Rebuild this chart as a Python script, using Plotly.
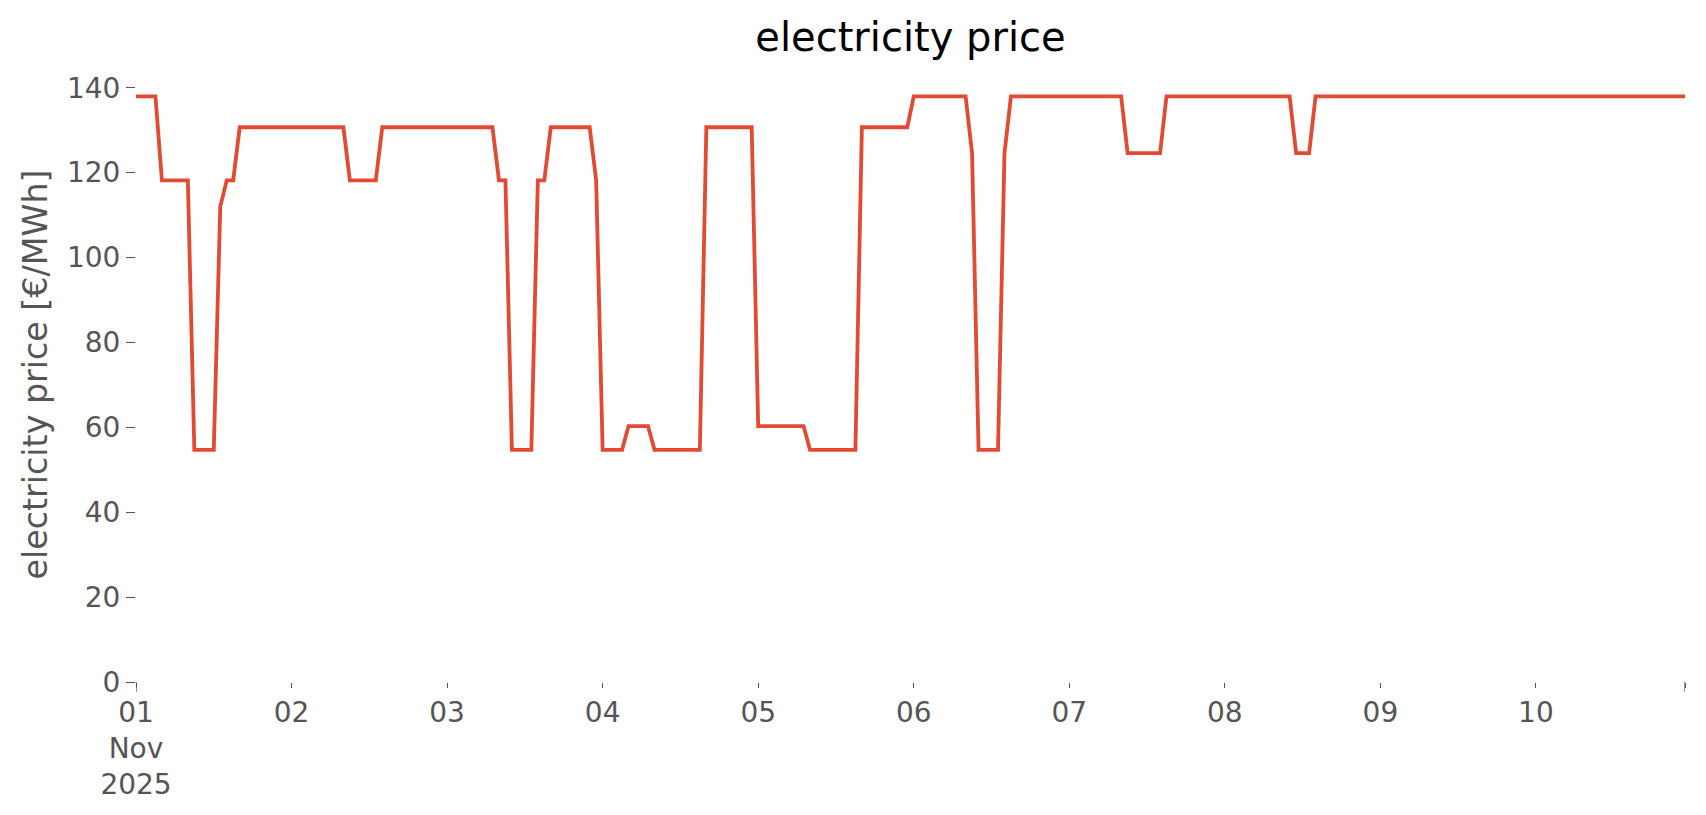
import pandas as pd
import plotly.graph_objects as go

# hourly electricity price [EUR/MWh], 01 Nov 2025 00:00 .. 10 Nov 2025 23:00
day01 = [138.0, 138.0, 138.0, 138.0, 118.2, 118.2, 118.2, 118.2, 118.2, 54.7, 54.7, 54.7,
         54.7, 112.0, 118.2, 118.2, 130.7, 130.7, 130.7, 130.7, 130.7, 130.7, 130.7, 130.7]
day02 = [130.7, 130.7, 130.7, 130.7, 130.7, 130.7, 130.7, 130.7, 130.7, 118.2, 118.2, 118.2,
         118.2, 118.2, 130.7, 130.7, 130.7, 130.7, 130.7, 130.7, 130.7, 130.7, 130.7, 130.7]
day03 = [130.7, 130.7, 130.7, 130.7, 130.7, 130.7, 130.7, 130.7, 118.2, 118.2, 54.7, 54.7,
         54.7, 54.7, 118.2, 118.2, 130.7, 130.7, 130.7, 130.7, 130.7, 130.7, 130.7, 118.2]
day04 = [54.7, 54.7, 54.7, 54.7, 60.3, 60.3, 60.3, 60.3, 54.7, 54.7, 54.7, 54.7,
         54.7, 54.7, 54.7, 54.7, 130.7, 130.7, 130.7, 130.7, 130.7, 130.7, 130.7, 130.7]
day05 = [60.3, 60.3, 60.3, 60.3, 60.3, 60.3, 60.3, 60.3, 54.7, 54.7, 54.7, 54.7,
         54.7, 54.7, 54.7, 54.7, 130.7, 130.7, 130.7, 130.7, 130.7, 130.7, 130.7, 130.7]
day06 = [138.0, 138.0, 138.0, 138.0, 138.0, 138.0, 138.0, 138.0, 138.0, 124.6, 54.7, 54.7,
         54.7, 54.7, 124.6, 138.0, 138.0, 138.0, 138.0, 138.0, 138.0, 138.0, 138.0, 138.0]
day07 = [138.0, 138.0, 138.0, 138.0, 138.0, 138.0, 138.0, 138.0, 138.0, 124.6, 124.6, 124.6,
         124.6, 124.6, 124.6, 138.0, 138.0, 138.0, 138.0, 138.0, 138.0, 138.0, 138.0, 138.0]
day08 = [138.0, 138.0, 138.0, 138.0, 138.0, 138.0, 138.0, 138.0, 138.0, 138.0, 138.0, 124.6,
         124.6, 124.6, 138.0, 138.0, 138.0, 138.0, 138.0, 138.0, 138.0, 138.0, 138.0, 138.0]
day09 = [138.0, 138.0, 138.0, 138.0, 138.0, 138.0, 138.0, 138.0, 138.0, 138.0, 138.0, 138.0,
         138.0, 138.0, 138.0, 138.0, 138.0, 138.0, 138.0, 138.0, 138.0, 138.0, 138.0, 138.0]
day10 = [138.0, 138.0, 138.0, 138.0, 138.0, 138.0, 138.0, 138.0, 138.0, 138.0, 138.0, 138.0,
         138.0, 138.0, 138.0, 138.0, 138.0, 138.0, 138.0, 138.0, 138.0, 138.0, 138.0, 138.0]

price = day01 + day02 + day03 + day04 + day05 + day06 + day07 + day08 + day09 + day10
times = pd.date_range("2025-11-01 00:00", periods=len(price), freq="h")

x_ticks = ["2025-11-01", "2025-11-02", "2025-11-03", "2025-11-04", "2025-11-05",
           "2025-11-06", "2025-11-07", "2025-11-08", "2025-11-09", "2025-11-10",
           "2025-11-10 23:00"]
x_labels = ["01<br>Nov<br>2025", "02", "03", "04", "05", "06", "07", "08", "09", "10", ""]
major_ticks = ["2025-11-01 00:00", "2025-11-10 23:00"]
y_ticks = [0, 20, 40, 60, 80, 100, 120, 140]

FONT = "DejaVu Sans"
GREY = "#555555"
xrange_ = [times[0], times[-1]]

fig = go.Figure()
fig.add_trace(go.Scatter(x=times, y=price, mode="lines",
                         line=dict(color="#E24A33", width=3.8),
                         showlegend=False))

# longer (major) tick marks at the first and last timestamp
for t in major_ticks:
    fig.add_shape(type="line", xref="x", yref="paper", x0=t, x1=t,
                  ysizemode="pixel", yanchor=0, y0=0, y1=-10,
                  line=dict(color=GREY, width=1.2))

fig.update_layout(
    width=1706, height=815,
    margin=dict(l=136, r=21, t=67, b=133),
    paper_bgcolor="white", plot_bgcolor="white",
    font=dict(family=FONT, color=GREY, size=28),
    title=dict(text="electricity price", x=0.5, xref="paper", xanchor="center",
               y=1 - 37 / 815, yref="container", yanchor="middle",
               font=dict(family=FONT, size=40, color="black")),
    xaxis=dict(range=xrange_, tickmode="array", tickvals=x_ticks, ticktext=x_labels,
               ticks="outside", ticklen=5, tickwidth=1.2, tickcolor=GREY,
               ticklabelstandoff=0,
               tickfont=dict(family=FONT, size=28, color=GREY),
               showgrid=False, zeroline=False, showline=False, automargin=False),
    yaxis=dict(range=[0, 144.9], tickmode="array", tickvals=y_ticks,
               ticks="outside", ticklen=9, tickwidth=1.2, tickcolor=GREY,
               tickfont=dict(family=FONT, size=28, color=GREY),
               showgrid=False, zeroline=False, showline=False, automargin=False,
               title=dict(text="electricity price [€/MWh]", standoff=9,
                          font=dict(family=FONT, size=33.3, color=GREY))),
)

fig.write_html("out.html", config={"displayModeBar": False},
               post_script="document.body.style.margin='0px';document.body.style.overflow='hidden';")
